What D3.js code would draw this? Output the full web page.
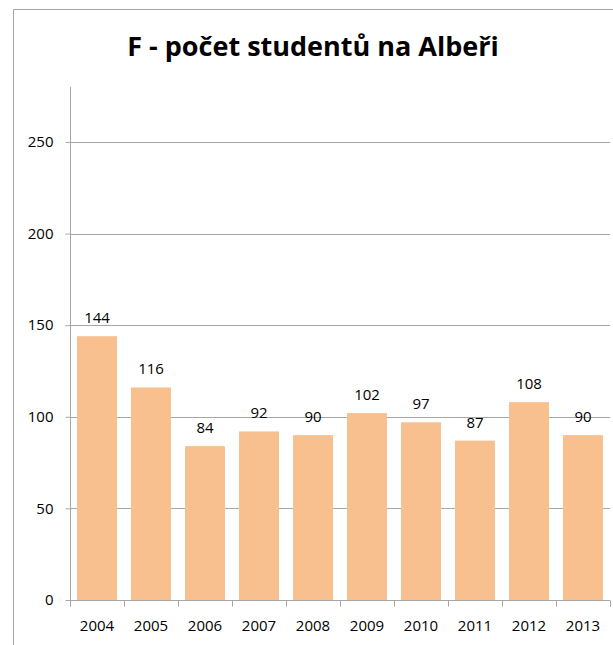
<!DOCTYPE html>
<head>
<meta charset="utf-8">
<title>F - počet studentů na Albeři</title>
<script src="https://cdn.jsdelivr.net/npm/d3@7"></script>
<style>
  body { margin: 0; background: #fff; }
  text { font-family: "Open Sans", "DejaVu Sans", sans-serif; fill: #000; }
</style>
</head>
<body>
<svg></svg>
<script>
var years = ['2004', '2005', '2006', '2007', '2008', '2009', '2010', '2011', '2012', '2013']
var students = [144, 116, 84, 92, 90, 102, 97, 87, 108, 90]
var yTicks = [0, 50, 100, 150, 200, 250]

var W = 613, H = 645
var svg = d3.select('svg').attr('width', W).attr('height', H)

// chart frame
svg.append('path')
  .attr('d', 'M13.5,' + H + 'V9.5H' + W)
  .attr('fill', 'none').attr('stroke', '#a6a6a6').attr('stroke-width', 1)

svg.append('text')
  .attr('x', 313).attr('y', 56)
  .attr('text-anchor', 'middle')
  .style('font-size', '27px').style('font-weight', 'bold')
  .text('F - počet studentů na Albeři')

var pl = 70, pr = 610, pt = 87, pb = 600

var x = d3.scaleBand().domain(years).range([pl, pr]).paddingInner(0.26).paddingOuter(0.13)
var y = d3.scaleLinear().domain([0, 280]).range([pb, pt])

// gridlines
svg.append('g').selectAll('line').data(yTicks.slice(1)).enter().append('line')
  .attr('x1', pl).attr('x2', pr)
  .attr('y1', function (d) { return Math.round(y(d)) + 0.5 })
  .attr('y2', function (d) { return Math.round(y(d)) + 0.5 })
  .attr('stroke', '#a6a6a6')

// bars
svg.append('g').selectAll('rect').data(students).enter().append('rect')
  .attr('x', function (d, i) { return x(years[i]) })
  .attr('width', x.bandwidth())
  .attr('y', function (d) { return y(d) })
  .attr('height', function (d) { return pb - y(d) })
  .attr('fill', '#f9c08f')

// value labels
svg.append('g').selectAll('text').data(students).enter().append('text')
  .attr('x', function (d, i) { return x(years[i]) + x.bandwidth() / 2 })
  .attr('y', function (d) { return y(d) - 13 })
  .attr('text-anchor', 'middle')
  .style('font-size', '15px')
  .text(function (d) { return d })

// y axis
var ya = svg.append('g').attr('transform', 'translate(' + (pl + 0.5) + ',0)')
  .call(d3.axisLeft(y).tickValues(yTicks).tickSize(5).tickSizeOuter(0))
ya.select('.domain').attr('stroke', '#a6a6a6').attr('d', 'M0,' + pt + 'V' + pb)
ya.selectAll('.tick line').attr('stroke', '#a6a6a6')
ya.selectAll('.tick text').attr('x', -17).style('font-size', '15px').style('font-family', '"Open Sans", sans-serif').attr('fill', '#000')

// x axis
var xa = svg.append('g').attr('transform', 'translate(0,' + (pb + 0.5) + ')')
  .call(d3.axisBottom(x).tickSize(0))
xa.select('.domain').attr('stroke', '#a6a6a6').attr('d', 'M' + pl + ',0H' + pr)
xa.selectAll('.tick text').attr('y', 30).attr('dy', null).style('font-size', '15px').style('font-family', '"Open Sans", sans-serif').attr('fill', '#000')
xa.selectAll('.sep').data(d3.range(years.length + 1)).enter().append('line')
  .attr('class', 'sep')
  .attr('x1', function (i) { return Math.round(pl + i * (pr - pl) / years.length) + 0.5 })
  .attr('x2', function (i) { return Math.round(pl + i * (pr - pl) / years.length) + 0.5 })
  .attr('y1', 0).attr('y2', 6)
  .attr('stroke', '#a6a6a6')
</script>
</body>
